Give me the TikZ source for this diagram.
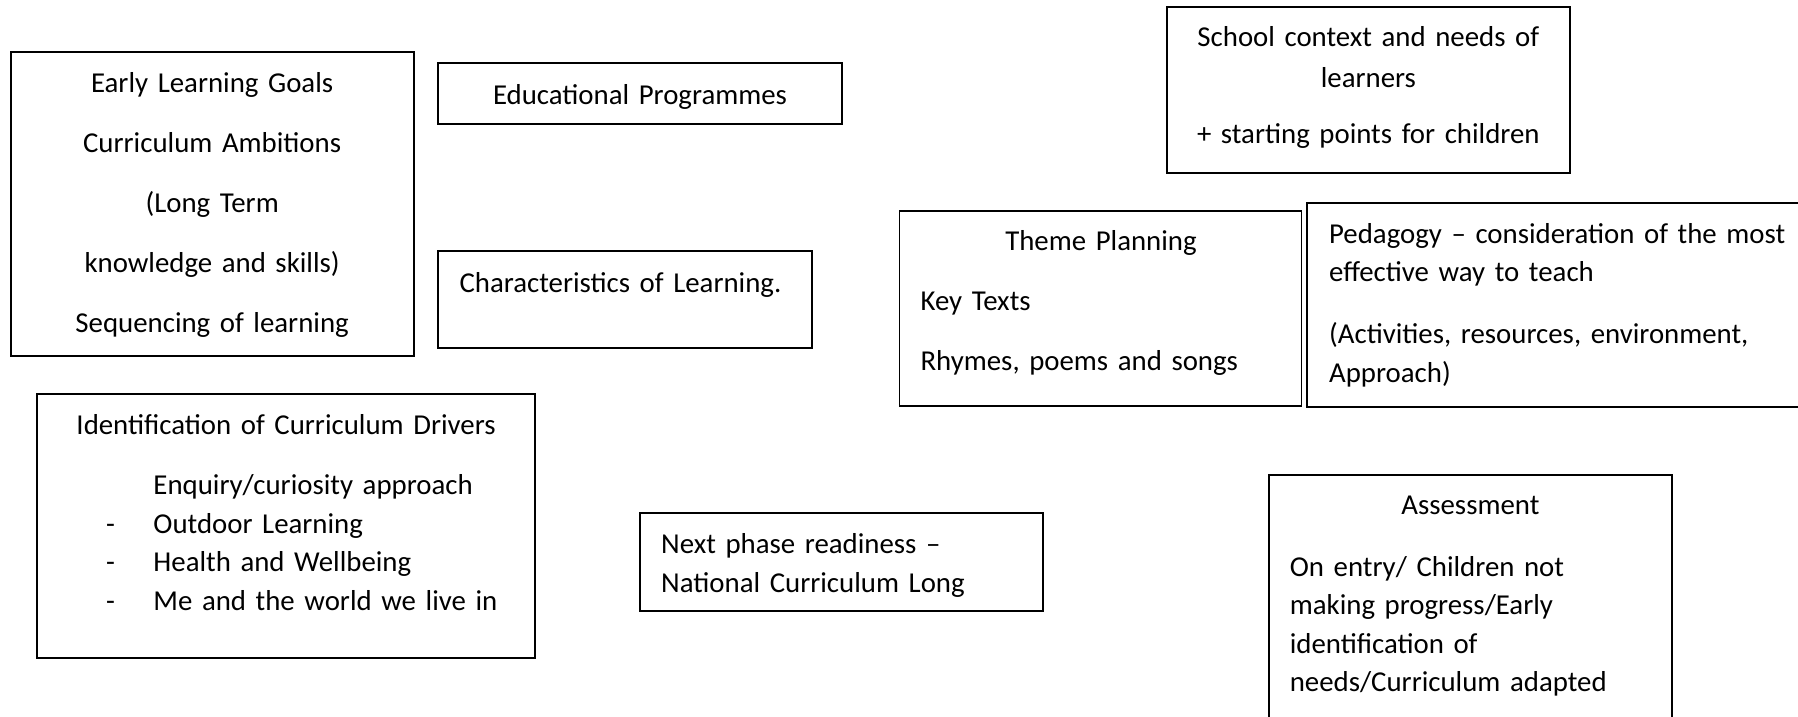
\documentclass[tikz,border=0pt]{standalone}
\usepackage{fontspec}
\setmainfont{Carlito}
\usetikzlibrary{positioning,calc,fit}
\tikzstyle{box} = [draw=black, line width=0.75pt, inner sep=0pt]
\tikzstyle{txt} = [inner sep=0pt, text width=200pt, font=\fontsize{11}{14.7}\selectfont]
\tikzstyle{ctr} = [txt, align=center, anchor=base]
\tikzstyle{lft} = [txt, align=left, anchor=base west]
% paragraph gap as in the word processor (space after)
\newcommand{\psep}{\\[8.2pt]}
\newcommand{\dashitem}[1]{\makebox[18.1pt][l]{#1}}

\begin{document}
\begin{tikzpicture}[x=0.3817pt, y=-0.3817pt]
\useasboundingbox (0,0) rectangle (1798,716);
% boxes
\node[box, fit={(10.7,51.7) (413.6,356)}] (elg) {};
\node[box, fit={(438.3,63.3) (841.7,124)}] (edu) {};
\node[box, fit={(438.3,250.7) (811.7,348.3)}] (char) {};
\node[box, fit={(1167,6.7) (1569.7,173.3)}] (school) {};
\node[box, fit={(899.5,210.7) (1301.5,405.5)}] (theme) {};
\node[box, fit={(1307.4,202.7) (1806,407)}] (peda) {};
\node[box, fit={(36.8,394) (535.4,658.3)}] (drivers) {};
\node[box, fit={(640,513.3) (1042.7,610.7)}] (next) {};
\node[box, fit={(1269.3,475) (1671.5,724)}] (assess) {};
% texts
\node[ctr] (elgtext) at ($(elg.north)+(0,42)$) {Early Learning Goals\psep Curriculum Ambitions\psep (Long Term\psep knowledge and skills)\psep Sequencing of learning};
\node[ctr] (edutext) at ($(edu.north)+(0,42)$) {Educational Programmes};
\node[lft] (chartext) at ($(char.north west)+(21.7,42.3)$) {Characteristics of Learning.};
\node[ctr] (schooltext) at ($(school.north)+(0,41)$) {School context and needs of\\[1pt] learners\\[6.4pt] + starting points for children};
\node[ctr] (themetitle) at ($(theme.north)+(0.5,40.3)$) {Theme Planning};
\node[lft] (themetext) at ($(theme.north west)+(21.5,100.3)$) {Key Texts\psep Rhymes, poems and songs};
\node[lft] (pedatext) at ($(peda.north west)+(22.2,41.5)$) {Pedagogy -- consideration of the most\\ effective way to teach\\[9pt] (Activities, resources, environment,\\ Approach)};
\node[ctr] (drivtitle) at ($(drivers.north)+(0,41.5)$) {Identification of Curriculum Drivers};
\node[lft] (drivtext) at ($(drivers.north west)+(69.7,101.5)$) {\dashitem{}Enquiry/curiosity approach\\ \dashitem{-}Outdoor Learning\\ \dashitem{-}Health and Wellbeing\\ \dashitem{-}Me and the world we live in};
\node[lft] (nexttext) at ($(next.north west)+(21.7,41.5)$) {Next phase readiness --\\ National Curriculum Long};
\node[ctr] (asstitle) at ($(assess.north)+(0,40.5)$) {Assessment};
\node[lft] (asstext) at ($(assess.north west)+(21,102)$) {On entry/ Children not\\ making progress/Early\\ identification of\\ needs/Curriculum adapted};
\end{tikzpicture}
\end{document}
